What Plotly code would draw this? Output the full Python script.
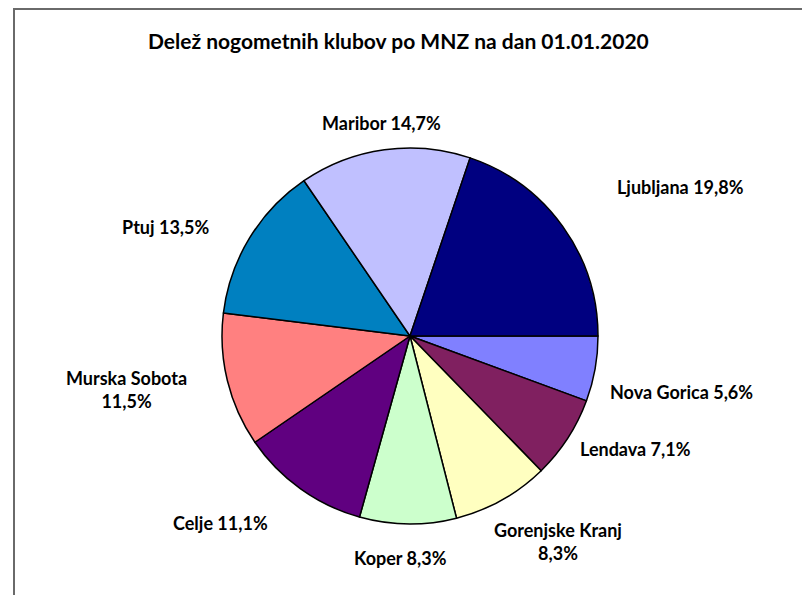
import plotly.graph_objects as go

# Share of football clubs per MNZ, listed clockwise starting at 3 o'clock
regions = ["Nova Gorica", "Lendava", "Gorenjske Kranj", "Koper", "Celje",
           "Murska Sobota", "Ptuj", "Maribor", "Ljubljana"]
shares = [5.6, 7.1, 8.3, 8.3, 11.1, 11.5, 13.5, 14.7, 19.8]

slice_colors = ["#8080FF", "#802060", "#FFFFC0", "#CCFFCC", "#600080",
                "#FF8080", "#0080C0", "#C0C0FF", "#000080"]

# label text, with line breaks where the original wraps
label_breaks = {"Gorenjske Kranj": "<br>", "Murska Sobota": "<br>"}

# label centre offsets from pie centre in px (layout only)
label_offsets = [(271, 56), (225, 113), (148, 205), (-10, 222), (-190, 187),
                 (-284, 54), (-245, -109), (-29, -213), (270, -149)]

# page is drawn with an 8px body margin, so work in figure coords
PAD = 8
W, H = 810 - PAD, 595 - PAD
cx, cy, R = 410 - PAD, 336 - PAD, 188  # pie centre and radius in px

fig = go.Figure()

fig.add_trace(go.Pie(
    labels=regions,
    values=shares,
    sort=False,
    direction="clockwise",
    rotation=90,
    textinfo="none",
    hoverinfo="label+percent",
    marker=dict(colors=slice_colors, line=dict(color="black", width=1.5)),
    domain=dict(x=[(cx - R) / W, (cx + R) / W],
                y=[(H - cy - R) / H, (H - cy + R) / H]),
    showlegend=False,
))

annotations = []
for name, val, (dx, dy) in zip(regions, shares, label_offsets):
    pct = f"{val:.1f}".replace(".", ",") + "%"
    sep = label_breaks.get(name, " ")
    annotations.append(dict(
        x=(cx + dx) / W, y=1 - (cy + dy) / H,
        xref="paper", yref="paper",
        text=f"<b>{name}{sep}{pct}</b>",
        showarrow=False, xanchor="center", yanchor="middle",
        font=dict(family="Lato", size=18, color="black"),
    ))

annotations.append(dict(
    x=(398 - PAD) / W, y=1 - (40 - PAD) / H, xref="paper", yref="paper",
    text="<b>Delež nogometnih klubov po MNZ na dan 01.01.2020</b>",
    showarrow=False, xanchor="center", yanchor="middle",
    font=dict(family="Lato", size=21, color="black"),
))

fig.update_layout(
    width=W, height=H,
    margin=dict(l=0, r=0, t=0, b=0),
    paper_bgcolor="white",
    plot_bgcolor="white",
    annotations=annotations,
    shapes=[dict(type="rect", xref="paper", yref="paper",
                 x0=(14 - PAD) / W, x1=1.2, y0=-0.2, y1=1 - (9 - PAD) / H,
                 line=dict(color="#6a6a6a", width=2))],
)

fig.write_html("out.html")
